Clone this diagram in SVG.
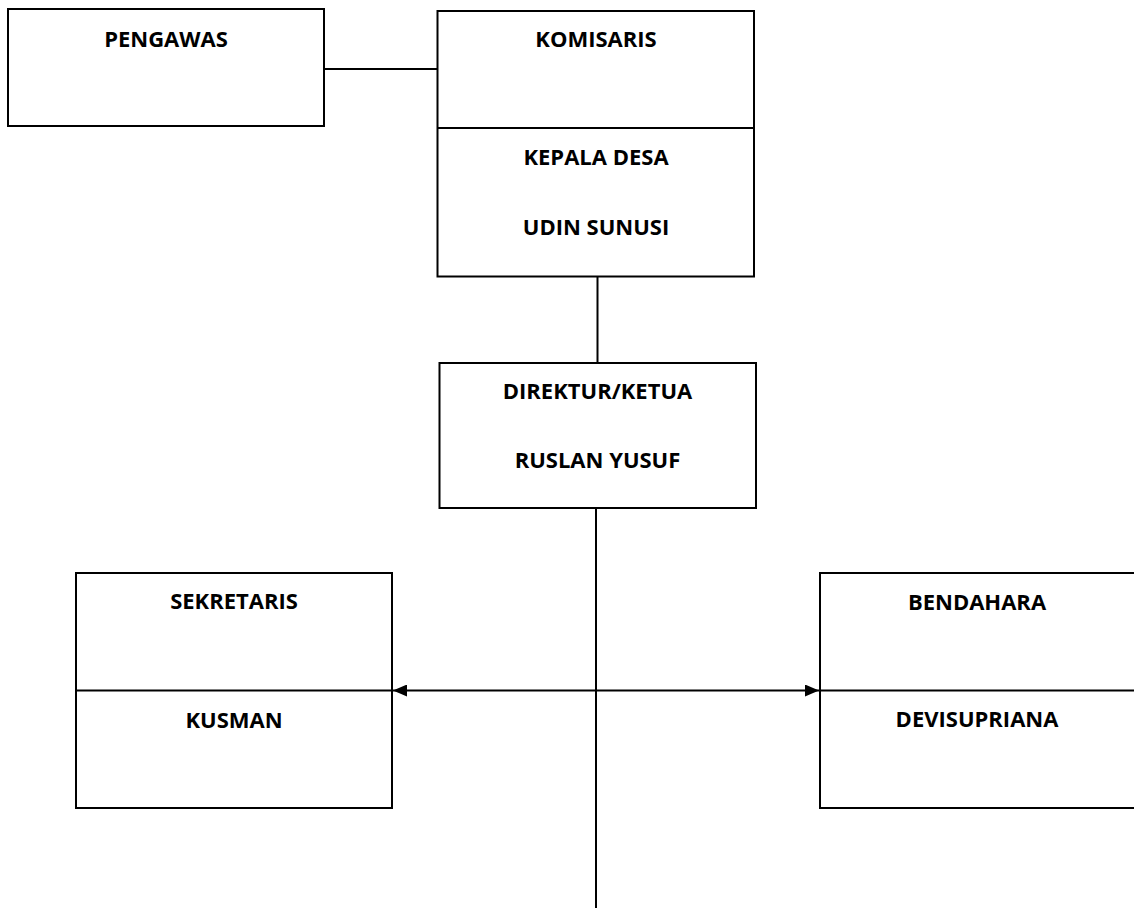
<svg xmlns="http://www.w3.org/2000/svg" width="1134" height="908" viewBox="0 0 1134 908">
<style>
.box{fill:#fff;stroke:#000;stroke-width:2}
.ln{stroke:#000;stroke-width:2;fill:none}
text{font-family:"Open Sans","Liberation Sans",sans-serif;font-weight:700;font-size:22px;text-anchor:middle;fill:#000}
</style>
<defs>
<marker id="ah" viewBox="0 0 14 12" refX="14" refY="6" markerWidth="14" markerHeight="12" markerUnits="userSpaceOnUse" orient="auto-start-reverse">
<path d="M0,0 L14,6 L0,12 Z" fill="#000"/>
</marker>
</defs>
<rect width="1134" height="908" fill="#fff"/>
<g id="connectors">
<line class="ln" x1="324" y1="69" x2="437" y2="69"/>
<line class="ln" x1="597.5" y1="277" x2="597.5" y2="363"/>
<line class="ln" x1="596" y1="508" x2="596" y2="908"/>
<line class="ln" x1="393" y1="690.5" x2="819" y2="690.5" marker-start="url(#ah)" marker-end="url(#ah)"/>
</g>
<g id="pengawas">
<rect class="box" x="8" y="9" width="316" height="117"/>
<text x="166" y="47">PENGAWAS</text>
</g>
<g id="komisaris">
<rect class="box" x="437.5" y="11" width="316.5" height="265.5"/>
<line class="ln" x1="437.5" y1="128" x2="754" y2="128"/>
<text x="596" y="47">KOMISARIS</text>
<text x="596" y="165">KEPALA DESA</text>
<text x="596" y="235">UDIN SUNUSI</text>
</g>
<g id="direktur">
<rect class="box" x="439.5" y="363" width="316.5" height="145"/>
<text x="597.5" y="399">DIREKTUR/KETUA</text>
<text x="597.5" y="468">RUSLAN YUSUF</text>
</g>
<g id="sekretaris">
<rect class="box" x="76" y="573" width="316" height="235"/>
<line class="ln" x1="76" y1="690.5" x2="392" y2="690.5"/>
<text x="234" y="609">SEKRETARIS</text>
<text x="234" y="728">KUSMAN</text>
</g>
<g id="bendahara">
<rect class="box" x="820" y="573" width="320" height="235"/>
<line class="ln" x1="820" y1="690.5" x2="1140" y2="690.5"/>
<text x="977" y="610">BENDAHARA</text>
<text x="977" y="727">DEVISUPRIANA</text>
</g>
</svg>
